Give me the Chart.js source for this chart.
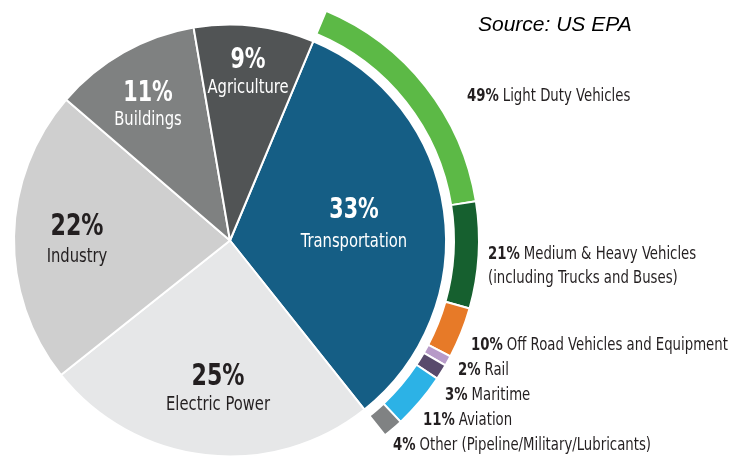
<!DOCTYPE html>
<html>
<head>
<meta charset="utf-8">
<script src="https://cdn.jsdelivr.net/npm/chart.js@4.4.1/dist/chart.umd.min.js"></script>
<style>
  body { margin: 0; background: #fff; }
  #wrap { width: 746px; height: 460px; position: relative; }
</style>
</head>
<body>
<div id="wrap"><canvas id="myChart"></canvas></div>
<script>
// GHG emissions by sector (inner pie), %
const sectors = ['Transportation', 'Electric Power', 'Industry', 'Buildings', 'Agriculture'];
const sectorShares = [33, 25, 22, 11, 9];

// transportation split (outer ring), % of transportation
const transportParts = ['Light Duty Vehicles', ['Medium & Heavy Vehicles', '(including Trucks and Buses)'],
  'Off Road Vehicles and Equipment', 'Rail', 'Maritime', 'Aviation', 'Other (Pipeline/Military/Lubricants)'];
const transportShares = [49, 21, 10, 2, 3, 11, 4];

const sourceText = 'Source: US EPA';

// styles
const sectorColors = ['#155e85', '#e6e7e8', '#cfcfcf', '#7f8181', '#515455'];
const sectorTextColors = ['#fff', '#231f20', '#231f20', '#fff', '#fff'];
const partColors = ['#5cb946', '#16602f', '#e77a28', '#b79ac8', '#584a6c', '#2cb2e6', '#808283'];
const FONT = '"DejaVu Sans Condensed", "DejaVu Sans", sans-serif';
const SQUEEZE = 0.82; // no narrow font installed, so squash text a bit
const startAngle = 22.7;

// label layout: x centre, baseline of %, baseline of name, size of %
const sectorLabelPos = [
  [354, 218, 247, 28],
  [218, 385, 410, 30],
  [77, 235, 262, 30],
  [148, 101, 125, 28],
  [248, 68, 93, 28]
];
// left x and baseline for each ring label
const partLabelPos = [
  [467, 101], [488, 259], [471, 350], [458, 375], [445, 400], [423, 425], [393, 450]
];

function squeezedText(ctx, text, x, y) {
  ctx.save();
  ctx.translate(x, y);
  ctx.scale(SQUEEZE, 1);
  ctx.fillText(text, 0, 0);
  ctx.restore();
  return ctx.measureText(text).width * SQUEEZE;
}

const labelPlugin = {
  id: 'labels',
  afterDraw(chart) {
    const ctx = chart.ctx;
    ctx.save();
    ctx.textBaseline = 'alphabetic';

    // pie labels
    ctx.textAlign = 'center';
    sectors.forEach((name, i) => {
      const p = sectorLabelPos[i];
      ctx.fillStyle = sectorTextColors[i];
      ctx.font = 'bold ' + p[3] + 'px ' + FONT;
      squeezedText(ctx, sectorShares[i] + '%', p[0], p[1]);
      ctx.font = '20px ' + FONT;
      squeezedText(ctx, name, p[0], p[2]);
    });

    // ring labels
    ctx.textAlign = 'left';
    ctx.fillStyle = '#231f20';
    transportParts.forEach((name, i) => {
      const p = partLabelPos[i];
      const lines = Array.isArray(name) ? name : [name];
      ctx.font = 'bold 18px ' + FONT;
      const w = squeezedText(ctx, transportShares[i] + '%', p[0], p[1]) + 4;
      ctx.font = '18px ' + FONT;
      squeezedText(ctx, lines[0], p[0] + w, p[1]);
      for (let k = 1; k < lines.length; k++) {
        squeezedText(ctx, lines[k], p[0], p[1] + 24 * k);
      }
    });

    // source
    ctx.font = 'italic 21px "Liberation Sans", Arial, sans-serif';
    ctx.fillStyle = '#000';
    ctx.fillText(sourceText, 478, 31);
    ctx.restore();
  }
};

const ctx = document.getElementById('myChart').getContext('2d');
new Chart(ctx, {
  type: 'pie',
  data: {
    labels: sectors,
    datasets: [
      {
        // outer ring, spans the transportation slice only
        data: transportShares,
        backgroundColor: partColors,
        borderColor: '#fff',
        borderWidth: 2,
        weight: 25,
        rotation: startAngle,
        circumference: sectorShares[0] * 3.6,
        clip: false
      },
      {
        // white gap between pie and ring
        data: [1],
        backgroundColor: 'rgba(0,0,0,0)',
        borderWidth: 0,
        weight: 8,
        clip: false
      },
      {
        data: sectorShares,
        backgroundColor: sectorColors,
        borderColor: '#fff',
        borderWidth: 2,
        weight: 216,
        rotation: startAngle,
        clip: false
      }
    ]
  },
  options: {
    responsive: true,
    maintainAspectRatio: false,
    animation: false,
    events: [],
    radius: 249,
    layout: { padding: { left: 0, right: 286, top: 21, bottom: 0 } },
    plugins: {
      legend: { display: false },
      tooltip: { enabled: false }
    }
  },
  plugins: [labelPlugin]
});
</script>
</body>
</html>
